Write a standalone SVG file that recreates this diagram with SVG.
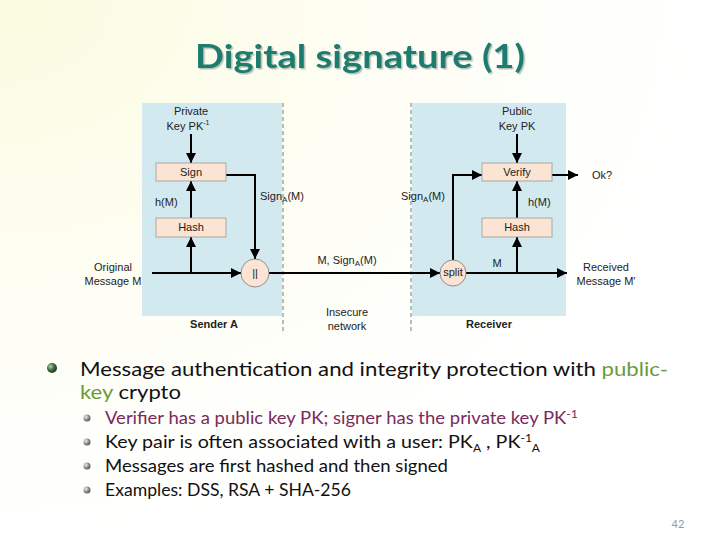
<svg xmlns="http://www.w3.org/2000/svg" width="720" height="540" viewBox="0 0 720 540">
<defs>
<radialGradient id="bg" cx="0" cy="0" r="1" gradientUnits="userSpaceOnUse" gradientTransform="translate(0 0) scale(700 540)">
<stop offset="0" stop-color="#fbfbe0"/><stop offset="0.6" stop-color="#fefef6"/><stop offset="1" stop-color="#ffffff"/>
</radialGradient>
<radialGradient id="b1" cx="0.35" cy="0.35" r="0.7"><stop offset="0" stop-color="#b6d3b0"/><stop offset="0.5" stop-color="#3f6e48"/><stop offset="1" stop-color="#1d3a24"/></radialGradient>
<radialGradient id="b2" cx="0.35" cy="0.35" r="0.7"><stop offset="0" stop-color="#f0f0f0"/><stop offset="0.6" stop-color="#8a8a8a"/><stop offset="1" stop-color="#555"/></radialGradient>
<filter id="sh" x="-5%" y="-20%" width="110%" height="150%">
<feDropShadow dx="1.5" dy="1.5" stdDeviation="0.6" flood-color="#8a9a96" flood-opacity="0.6"/>
</filter>
<marker id="ah" viewBox="0 0 10 10" refX="10" refY="5" markerWidth="5.5" markerHeight="5" orient="auto" markerUnits="strokeWidth">
<path d="M0,0 L10,5 L0,10 z" fill="#000"/>
</marker>
</defs>
<style>
.lbl{font-family:"Liberation Sans",Arial,sans-serif;font-size:11px;fill:#222}
.bold{font-weight:bold}
.box{fill:#fbe4d4;stroke:#9a9a9a;stroke-width:0.8}
.panel{fill:#d3e9f0}
.dash{stroke:#777;stroke-width:1;stroke-dasharray:4,3;fill:none}
.arr{stroke:#000;stroke-width:2;fill:none;marker-end:url(#ah)}
.b1t{font-family:Lato,"Open Sans",sans-serif;font-size:20px;fill:#111}
.b2t{font-family:Lato,"Open Sans",sans-serif;font-size:18px;fill:#111}
</style>
<rect width="720" height="540" fill="url(#bg)"/>
<text x="360" y="68" text-anchor="middle" font-family="Lato,'Open Sans',sans-serif" font-weight="bold" font-size="32" fill="#1e7d6e" textLength="330" lengthAdjust="spacingAndGlyphs" filter="url(#sh)">Digital signature (1)</text>

<g id="panels">
<rect class="panel" x="142" y="103" width="140" height="213"/>
<rect class="panel" x="412" y="103" width="154" height="213"/>
<line class="dash" x1="283" y1="103" x2="283" y2="333"/>
<line class="dash" x1="411" y1="103" x2="411" y2="333"/>
</g>

<g id="connectors">
<line class="arr" x1="191" y1="134" x2="191" y2="163"/>
<line class="arr" x1="191" y1="218" x2="191" y2="181"/>
<line class="arr" x1="191" y1="273" x2="191" y2="237"/>
<line class="arr" x1="152" y1="273" x2="241" y2="273"/>
<polyline class="arr" points="226,175 255,175 255,259"/>
<line class="arr" x1="269" y1="273" x2="440" y2="273"/>
<polyline class="arr" points="453,260 453,175 482,175"/>
<line class="arr" x1="517" y1="134" x2="517" y2="163"/>
<line class="arr" x1="517" y1="218" x2="517" y2="181"/>
<line class="arr" x1="517" y1="273" x2="517" y2="237"/>
<line class="arr" x1="552" y1="175" x2="578" y2="175"/>
<line class="arr" x1="466" y1="273" x2="567" y2="273"/>
</g>

<g id="sign"><rect class="box" x="156" y="163" width="70" height="18"/><text class="lbl" x="191" y="176" text-anchor="middle">Sign</text></g>
<g id="hashA"><rect class="box" x="156" y="218" width="70" height="19"/><text class="lbl" x="191" y="231" text-anchor="middle">Hash</text></g>
<g id="concat"><circle cx="255" cy="273" r="14" fill="#fbe4d4" stroke="#777" stroke-width="0.8"/><text class="lbl" x="255" y="277" text-anchor="middle">||</text></g>
<g id="split"><circle cx="453" cy="273" r="13" fill="#fbe4d4" stroke="#777" stroke-width="0.8"/><text class="lbl" x="453" y="276" text-anchor="middle" font-size="8">split</text></g>
<g id="verify"><rect class="box" x="482" y="163" width="70" height="18"/><text class="lbl" x="517" y="176" text-anchor="middle">Verify</text></g>
<g id="hashB"><rect class="box" x="482" y="218" width="70" height="19"/><text class="lbl" x="517" y="231" text-anchor="middle">Hash</text></g>

<g id="labels">
<text class="lbl" x="191" y="115" text-anchor="middle">Private</text>
<text class="lbl" x="188" y="130" text-anchor="middle">Key PK<tspan font-size="7" dy="-5">-1</tspan></text>
<text class="lbl" x="155" y="206">h(M)</text>
<text class="lbl" x="260" y="200">Sign<tspan font-size="8" dy="2">A</tspan><tspan dy="-2">(M)</tspan></text>
<text class="lbl" x="113" y="271" text-anchor="middle">Original</text>
<text class="lbl" x="113" y="285" text-anchor="middle">Message M</text>
<text class="lbl" x="347" y="264" text-anchor="middle">M, Sign<tspan font-size="8" dy="2">A</tspan><tspan dy="-2">(M)</tspan></text>
<text class="lbl" x="401" y="200">Sign<tspan font-size="8" dy="2">A</tspan><tspan dy="-2">(M)</tspan></text>
<text class="lbl" x="517" y="115" text-anchor="middle">Public</text>
<text class="lbl" x="517" y="130" text-anchor="middle">Key PK</text>
<text class="lbl" x="528" y="206">h(M)</text>
<text class="lbl" x="592" y="179">Ok?</text>
<text class="lbl" x="497" y="267" text-anchor="middle">M</text>
<text class="lbl" x="606" y="271" text-anchor="middle">Received</text>
<text class="lbl" x="606" y="285" text-anchor="middle">Message M'</text>
<text class="lbl bold" x="214" y="328" text-anchor="middle">Sender A</text>
<text class="lbl" x="347" y="316" text-anchor="middle">Insecure</text>
<text class="lbl" x="347" y="330" text-anchor="middle">network</text>
<text class="lbl bold" x="489" y="328" text-anchor="middle">Receiver</text>
</g>

<g id="bullets">
<circle cx="52" cy="368" r="5" fill="url(#b1)"/>
<text class="b1t" x="80" y="376" textLength="588" lengthAdjust="spacingAndGlyphs">Message authentication and integrity protection with <tspan fill="#6b9b3a">public-</tspan></text>
<text class="b1t" x="80" y="399" textLength="101" lengthAdjust="spacingAndGlyphs"><tspan fill="#6b9b3a">key</tspan> crypto</text>
<circle cx="87" cy="418" r="3.5" fill="url(#b2)"/>
<circle cx="87" cy="442" r="3.5" fill="url(#b2)"/>
<circle cx="87" cy="466" r="3.5" fill="url(#b2)"/>
<circle cx="87" cy="490" r="3.5" fill="url(#b2)"/>
<text class="b2t" x="105" y="424" style="fill:#7a2a5a" textLength="473" lengthAdjust="spacingAndGlyphs">Verifier has a public key PK; signer has the private key PK<tspan font-size="12" dy="-6">-1</tspan></text>
<text class="b2t" x="105" y="448" textLength="435" lengthAdjust="spacingAndGlyphs">Key pair is often associated with a user: PK<tspan font-size="11" dy="4">A</tspan><tspan dy="-4"> , PK</tspan><tspan font-size="11" dy="-6">-1</tspan><tspan font-size="11" dy="10">A</tspan></text>
<text class="b2t" x="105" y="472" textLength="343" lengthAdjust="spacingAndGlyphs">Messages are first hashed and then signed</text>
<text class="b2t" x="105" y="496" textLength="246" lengthAdjust="spacingAndGlyphs">Examples: DSS, RSA + SHA-256</text>
<text x="678" y="528" text-anchor="middle" font-family="Lato,sans-serif" font-size="11" fill="#999">42</text>
</g>
</svg>
